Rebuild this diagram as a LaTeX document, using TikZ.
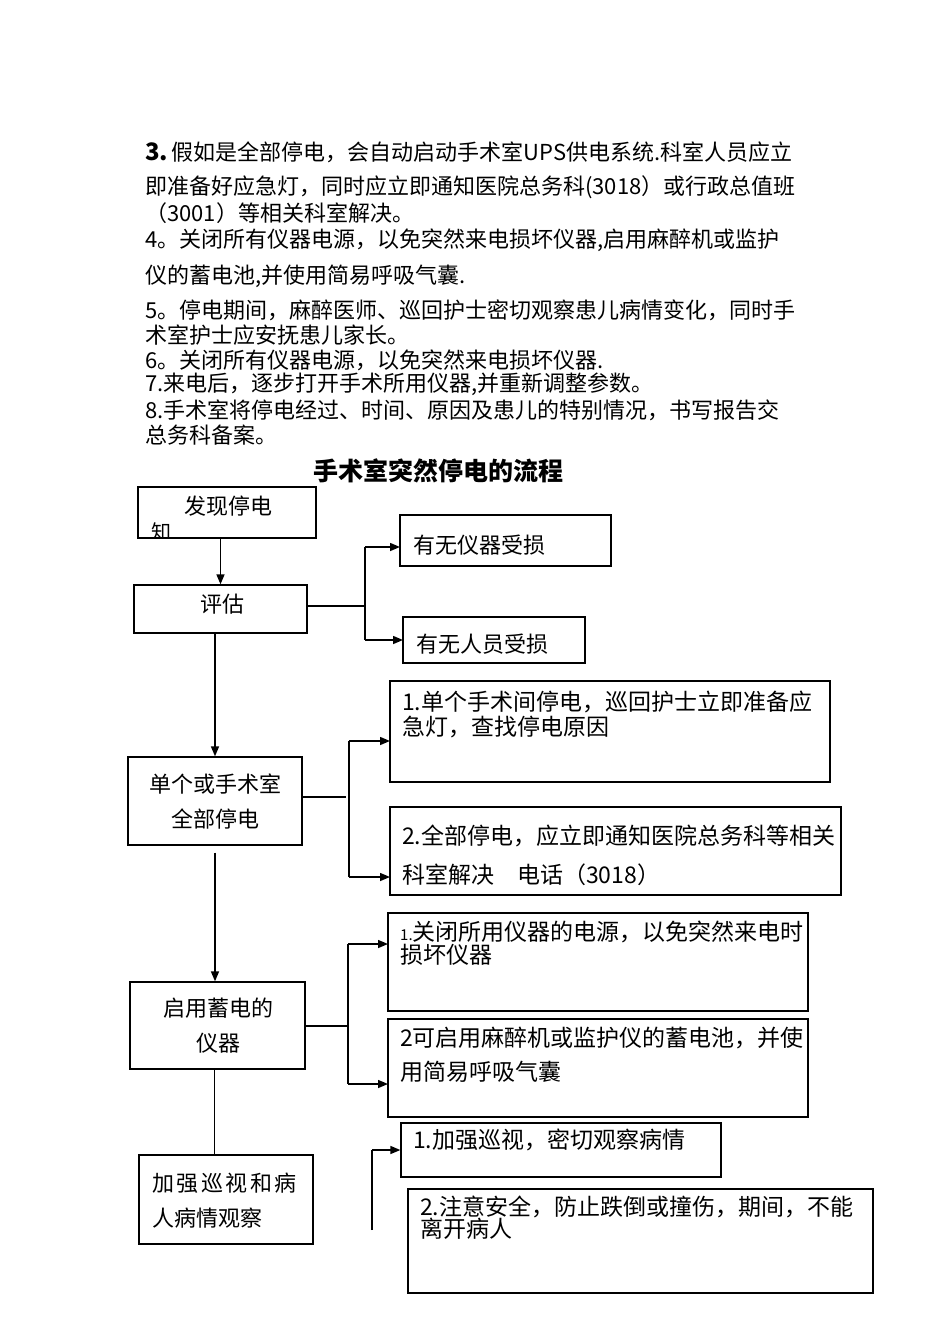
\documentclass[tikz,border=0pt]{standalone}
\usepackage{fontspec}
\setmainfont{Noto Sans CJK SC}
\usetikzlibrary{arrows.meta}
\begin{document}
\begin{tikzpicture}[x=1pt,y=-1pt,
  box/.style={draw, line width=1.3pt, inner sep=0pt},
  txt/.style={inner sep=0pt, font=\fontsize{22}{26}\selectfont},
  btxt/.style={inner sep=0pt, font=\fontsize{23}{27}\selectfont},
  ptxt/.style={inner sep=0pt, anchor=west, font=\fontsize{22}{26}\selectfont},
  conn/.style={line width=1.5pt},
  arr/.style={line width=1.5pt, -{Triangle[length=10pt,width=8pt]}},
]
\useasboundingbox[fill=white] (0,0) rectangle (950,1344);

% ---------- paragraph ----------
\node[ptxt] (p1) at (145,152) {{\bfseries\fontsize{24}{26}\selectfont 3.}\,假如是全部停电，会自动启动手术室UPS供电系统.科室人员应立};
\node[ptxt] (p2) at (145,187) {即准备好应急灯，同时应立即通知医院总务科(3018）或行政总值班};
\node[ptxt] (p3) at (145,213) {（3001）等相关科室解决。};
\node[ptxt] (p4) at (145,240) {4。关闭所有仪器电源，以免突然来电损坏仪器,启用麻醉机或监护};
\node[ptxt] (p5) at (145,276) {仪的蓄电池,并使用简易呼吸气囊.};
\node[ptxt] (p6) at (145,310) {5。停电期间，麻醉医师、巡回护士密切观察患儿病情变化，同时手};
\node[ptxt] (p7) at (145,335) {术室护士应安抚患儿家长。};
\node[ptxt] (p8) at (145,360) {6。关闭所有仪器电源，以免突然来电损坏仪器.};
\node[ptxt] (p9) at (145,384) {7.来电后，逐步打开手术所用仪器,并重新调整参数。};
\node[ptxt] (p10) at (145,410) {8.手术室将停电经过、时间、原因及患儿的特别情况，书写报告交};
\node[ptxt] (p11) at (145,435) {总务科备案。};

% ---------- title ----------
\node[inner sep=0pt, font=\bfseries\fontsize{25}{28}\selectfont] (title) at (438,471) {手术室突然停电的流程};

% ---------- boxes ----------
\node[box, minimum width=178pt, minimum height=51pt] (b1) at (227,512.5) {};
\node[box, minimum width=173pt, minimum height=48pt] (b2) at (220.5,609) {};
\node[box, minimum width=211pt, minimum height=51pt] (r1) at (505.5,540.5) {};
\node[box, minimum width=182pt, minimum height=46pt] (r2) at (494,640) {};
\node[box, minimum width=174pt, minimum height=88pt] (b3) at (215,801) {};
\node[box, minimum width=440pt, minimum height=101pt] (r3) at (610,731.5) {};
\node[box, minimum width=451pt, minimum height=88pt] (r4) at (615.5,851) {};
\node[box, minimum width=175pt, minimum height=87pt] (b4) at (217.5,1025.5) {};
\node[box, minimum width=420pt, minimum height=98pt] (r5) at (598,962) {};
\node[box, minimum width=420pt, minimum height=98pt] (r6) at (598,1068) {};
\node[box, minimum width=174pt, minimum height=89pt] (b5) at (226,1199.5) {};
\node[box, minimum width=320pt, minimum height=54pt] (r7) at (561,1150) {};
\node[box, minimum width=465pt, minimum height=104pt] (r8) at (640.5,1241) {};

% ---------- box texts ----------
\node[txt] (t1) at (228,506) {发现停电};
\begin{scope}
  \clip (b1.north west) rectangle (b1.south east);
  \node[inner sep=0pt, font=\fontsize{20}{22}\selectfont] (t1b) at (161,532) {知};
\end{scope}
\node[txt] (t2) at (222,604) {评估};
\node[ptxt] (t3) at (413,545) {有无仪器受损};
\node[ptxt] (t4) at (416,644) {有无人员受损};
\node[txt] (t5) at (215,784) {单个或手术室};
\node[txt] (t6) at (215,819) {全部停电};
\node[btxt, anchor=west] (t7) at (402,702) {1.单个手术间停电，巡回护士立即准备应};
\node[btxt, anchor=west] (t8) at (402,727) {急灯，查找停电原因};
\node[btxt, anchor=west] (t9) at (402,836) {2.全部停电，应立即通知医院总务科等相关};
\node[btxt, anchor=west] (t10) at (402,875) {科室解决\hspace{1em}电话（3018）};
\node[txt] (t11) at (218,1008) {启用蓄电的};
\node[txt] (t12) at (218,1043) {仪器};
\node[btxt, anchor=west] (t13) at (400,932) {{\fontsize{15}{17}\selectfont 1.}关闭所用仪器的电源，以免突然来电时};
\node[btxt, anchor=west] (t14) at (400,955) {损坏仪器};
\node[btxt, anchor=west] (t15) at (400,1038) {2可启用麻醉机或监护仪的蓄电池，并使};
\node[btxt, anchor=west] (t16) at (400,1072) {用简易呼吸气囊};
\node[ptxt] (t17) at (152,1183) {加\hspace{2.5pt}强\hspace{2.5pt}巡\hspace{2.5pt}视\hspace{2.5pt}和\hspace{2.5pt}病};
\node[ptxt] (t18) at (152,1218) {人病情观察};
\node[btxt, anchor=west] (t19) at (413,1140) {1.加强巡视，密切观察病情};
\node[btxt, anchor=west] (t20) at (420,1207) {2.注意安全，防止跌倒或撞伤，期间，不能};
\node[btxt, anchor=west] (t21) at (420,1229) {离开病人};

% ---------- connector coordinates ----------
\coordinate (f1) at (365,606);
\coordinate (r1in) at (400,547);
\coordinate (r2in) at (403,640);
\coordinate (f2) at (349,797);
\coordinate (r3in) at (390,741);
\coordinate (r4in) at (390,877);
\coordinate (f3) at (348,1026);
\coordinate (r5in) at (388,944);
\coordinate (r6in) at (388,1084);
\coordinate (f4top) at (372,1150);
\coordinate (f4bot) at (372,1230);

% ---------- main chain ----------
\draw[arr] (b2.north |- b1.south) -- (b2.north);
\draw[arr] (b3.north |- b2.south) -- (b3.north);
\draw[arr] ([yshift=-7pt]b3.south) -- (b3.south |- b4.north);
\draw[conn] ([xshift=-3pt]b4.south) -- ([xshift=-3pt]b4.south |- b5.north);

% ---------- fork 1 ----------
\draw[conn] (b2.east |- f1) -- (f1);
\draw[conn] (f1 |- r1in) -- (f1 |- r2in);
\draw[arr] (f1 |- r1in) -- (r1in);
\draw[arr] (f1 |- r2in) -- (r2in);

% ---------- fork 2 ----------
\draw[conn] (b3.east |- f2) -- ([xshift=-3pt]f2);
\draw[conn] (f2 |- r3in) -- (f2 |- r4in);
\draw[arr] (f2 |- r3in) -- (r3in);
\draw[arr] (f2 |- r4in) -- (r4in);

% ---------- fork 3 ----------
\draw[conn] (b4.east |- f3) -- (f3);
\draw[conn] (f3 |- r5in) -- (f3 |- r6in);
\draw[arr] (f3 |- r5in) -- (r5in);
\draw[arr] (f3 |- r6in) -- (r6in);

% ---------- fork 4 ----------
\draw[conn] (f4bot) -- (f4top);
\draw[arr] (f4top) -- (r7.west);

\end{tikzpicture}
\end{document}
